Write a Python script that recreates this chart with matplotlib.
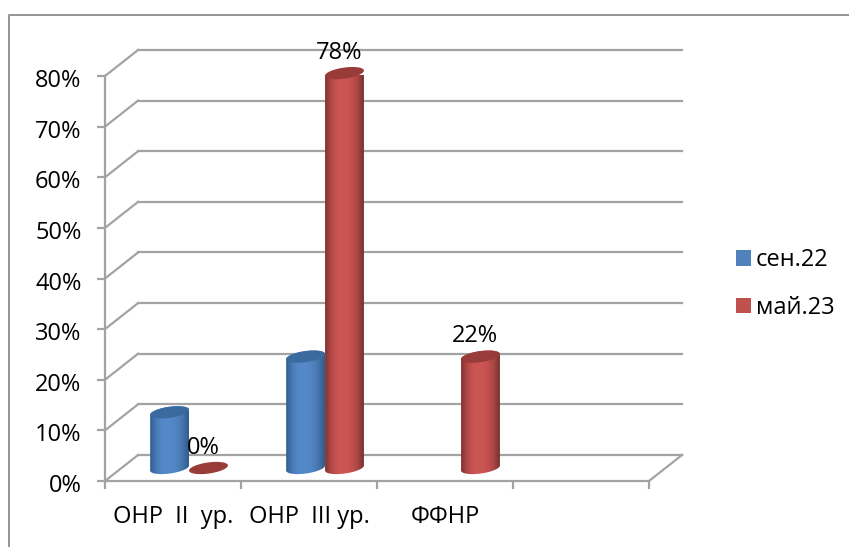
import numpy as np
import matplotlib
matplotlib.use("Agg")
import matplotlib.pyplot as plt
from matplotlib.colors import LinearSegmentedColormap
from matplotlib.lines import Line2D
from matplotlib.patches import Patch, Polygon
from matplotlib.transforms import ScaledTranslation

plt.rcParams["font.family"] = ["Open Sans", "DejaVu Sans"]

categories = ["ОНР  II  ур.", "ОНР  III ур.", "ФФНР"]
sep_22 = [11, 22, None]
may_23 = [0, 78, 22]
percent_ticks = [0, 10, 20, 30, 40, 50, 60, 70, 80]
series_names = ["сен.22", "май.23"]

GRID = "#a3a3a3"
DEPTH_X, DEPTH_Y = 0.243, 5.14  # wall offset, category / percent units
HALF_W, HALF_H, TILT = 0.143, 1.1, 0.5
BASE = 2.57
FONT = 17

blue_map = LinearSegmentedColormap.from_list("b", ["#315d90", "#4a7cb8", "#5488c8", "#5589ca", "#5284c2", "#4776ae", "#305b8b"])
red_map = LinearSegmentedColormap.from_list("r", ["#823432", "#b54a47", "#cb5553", "#cd5654", "#c65250", "#ad4744", "#773230"])

fig = plt.figure(figsize=(8.49, 5.47), dpi=100)
ax = fig.add_axes([105 / 849, 66 / 547, 544 / 849, 405 / 547])


def ellipse(cx, cy, start, stop):
    t = np.linspace(start, stop, 60)
    return np.column_stack([cx + HALF_W * np.cos(t), cy + HALF_H * np.sin(t) + TILT * np.cos(t)])


def cylinder(cx, value, cmap, cap):
    bottom, top = BASE, BASE + value
    if value > 0:
        outline = np.vstack([ellipse(cx, bottom, np.pi, 2 * np.pi), ellipse(cx, top, 0, np.pi)])
        shape = Polygon(outline, closed=True, fc="none", ec="none", zorder=3, clip_on=False)
        ax.add_patch(shape)
        shade = np.linspace(0, 1, 128).reshape(1, -1)
        img = ax.imshow(shade, cmap=cmap, aspect="auto", zorder=3, interpolation="bilinear",
                        extent=(cx - HALF_W, cx + HALF_W, bottom - 2, top + 2))
        img.set_clip_path(shape)
        img.set_clip_box(None)
    ax.add_patch(Polygon(ellipse(cx, top, 0, 2 * np.pi), closed=True, fc=cap, ec="none", zorder=4, clip_on=False))


# walls and floor
for p in percent_ticks:
    ax.plot([0, DEPTH_X], [p, p + DEPTH_Y], color=GRID, lw=1.6, clip_on=False, zorder=1)
    ax.plot([DEPTH_X, 4 + DEPTH_X], [p + DEPTH_Y, p + DEPTH_Y], color=GRID, lw=1.6, clip_on=False, zorder=1)
ax.plot([4, 4 + DEPTH_X], [0, DEPTH_Y], color=GRID, lw=1.6, clip_on=False, zorder=1)

for i in range(len(categories)):
    centre = i + 0.5 + 0.118
    if sep_22[i] is not None:
        cylinder(centre - HALF_W, sep_22[i], blue_map, "#3b6a9f")
    if may_23[i] is not None:
        cylinder(centre + HALF_W, may_23[i], red_map, "#983b39")
        ax.annotate(f"{may_23[i]}%", (centre + HALF_W, BASE + may_23[i]), xytext=(-4, 14.5),
                    textcoords="offset points", ha="center", va="center", fontsize=FONT, color="black", zorder=5, annotation_clip=False)

ax.set_xlim(0, 4)
ax.set_ylim(0, 80)
ax.set_yticks(percent_ticks)
ax.set_yticklabels([f"{p}%" for p in percent_ticks], fontsize=FONT)
ax.set_xticks(range(5))
ax.set_xticklabels([])
ax.set_xticks([i + 0.5 for i in range(len(categories))], categories, minor=True, fontsize=FONT)
ax.tick_params(axis="y", length=6, width=1.6, color=GRID, pad=11)
ax.tick_params(axis="x", which="major", length=6, width=1.6, color=GRID)
ax.tick_params(axis="x", which="minor", length=0, pad=17.5)
nudge = ScaledTranslation(0, -2 / 100, fig.dpi_scale_trans)
for label in ax.get_yticklabels():
    label.set_transform(label.get_transform() + nudge)
for side in ["top", "right"]:
    ax.spines[side].set_visible(False)
for side in ["left", "bottom"]:
    ax.spines[side].set_color(GRID)
    ax.spines[side].set_linewidth(1.6)
ax.patch.set_alpha(0)

handles = [Patch(fc="#4f81bd"), Patch(fc="#c0504d")]
fig.legend(handles, series_names, loc="center left", bbox_to_anchor=(736 / 849, 1 - 284 / 547), frameon=False,
           fontsize=FONT, handlelength=0.65, handleheight=0.65, handletextpad=0.2, labelspacing=1.0, borderaxespad=0, borderpad=0)

# chart frame
fig.add_artist(Line2D([9 / 849, 9 / 849, 1], [0, 1 - 14.5 / 547, 1 - 14.5 / 547], color="#8c8c8c", lw=1.3))

fig.savefig("out.png", dpi=100)
